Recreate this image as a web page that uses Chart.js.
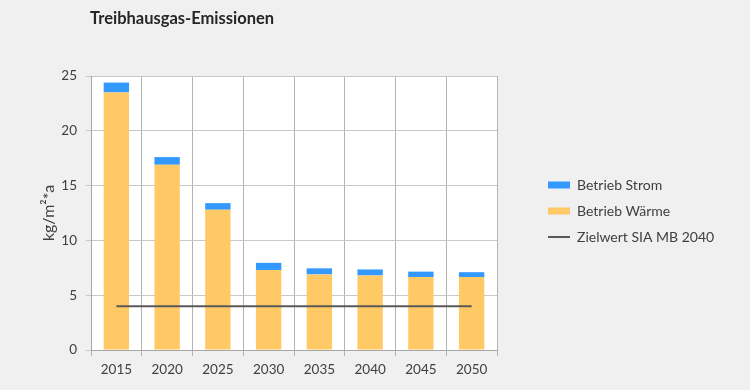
<!DOCTYPE html>
<html lang="de">
<head>
    <meta charset="UTF-8">
    <title>Treibhausgas-Emissionen</title>
    <script src="https://cdn.jsdelivr.net/npm/chart.js"></script>
    <style>
        body { margin: 0; background: #f0f0f0; }
        #wrap { width: 750px; height: 390px; position: relative; }
    </style>
</head>
<body>
<div id="wrap"><canvas id="ghgChart"></canvas></div>
<script>
    const years = ['2015', '2020', '2025', '2030', '2035', '2040', '2045', '2050'];
    const betriebWaerme = [23.5, 16.9, 12.8, 7.3, 6.9, 6.8, 6.65, 6.65];
    const betriebStrom = [0.9, 0.7, 0.6, 0.65, 0.55, 0.55, 0.5, 0.45];
    const zielwert = [4, 4, 4, 4, 4, 4, 4, 4];
    const yTicks = [0, 5, 10, 15, 20, 25];

    const legendOrder = ['Betrieb Strom', 'Betrieb Wärme', 'Zielwert SIA MB 2040'];
    const textColor = '#404040';

    // white plot area, title aligned to the y axis, legend width/position tweak
    const chartDecor = {
        id: 'chartDecor',
        beforeLayout(chart) {
            const lg = chart.legend;
            if (lg && !lg._fixedFit) {
                const fit = lg.fit.bind(lg);
                lg.fit = function () { fit(); this.width = 192; };
                lg._fixedFit = true;
            }
        },
        afterLayout(chart) {
            const lg = chart.legend;
            if (lg) { lg.top -= 22; lg.bottom -= 22; }
        },
        beforeDraw(chart) {
            const { ctx, chartArea: a } = chart;
            ctx.save();
            ctx.fillStyle = '#ffffff';
            ctx.fillRect(a.left, a.top, a.right - a.left, a.bottom - a.top);
            ctx.restore();
        },
        afterDraw(chart) {
            const { ctx, chartArea: a } = chart;
            ctx.save();
            ctx.font = 'bold 16.5px Lato';
            ctx.fillStyle = '#262626';
            ctx.textBaseline = 'middle';
            ctx.fillText('Treibhausgas-Emissionen', a.left - 1, 19);
            ctx.restore();
        }
    };

    new Chart(document.getElementById('ghgChart'), {
        type: 'bar',
        data: {
            labels: years,
            datasets: [
                {
                    label: 'Betrieb Wärme',
                    data: betriebWaerme,
                    backgroundColor: '#ffc966',
                    barPercentage: 0.5,
                    categoryPercentage: 1.0,
                    order: 2
                },
                {
                    label: 'Betrieb Strom',
                    data: betriebStrom,
                    backgroundColor: '#3399ff',
                    barPercentage: 0.5,
                    categoryPercentage: 1.0,
                    order: 2
                },
                {
                    type: 'line',
                    label: 'Zielwert SIA MB 2040',
                    data: zielwert,
                    borderColor: '#595959',
                    backgroundColor: '#595959',
                    borderWidth: 2,
                    pointRadius: 0,
                    stack: 'target',
                    order: 1
                }
            ]
        },
        options: {
            responsive: true,
            maintainAspectRatio: false,
            animation: false,
            layout: { padding: { top: 76, right: 22, bottom: 0, left: 39 } },
            plugins: {
                tooltip: { enabled: false },
                legend: {
                    position: 'right',
                    labels: {
                        color: textColor,
                        font: { family: 'Lato', size: 14 },
                        usePointStyle: true,
                        pointStyleWidth: 22,
                        boxHeight: 7,
                        padding: 12,
                        generateLabels(chart) {
                            const items = Chart.defaults.plugins.legend.labels.generateLabels(chart);
                            items.forEach(it => {
                                it.pointStyle = chart.data.datasets[it.datasetIndex].type === 'line' ? 'line' : 'rect';
                            });
                            return items;
                        },
                        sort: (a, b) => legendOrder.indexOf(a.text) - legendOrder.indexOf(b.text)
                    }
                }
            },
            scales: {
                x: {
                    stacked: true,
                    afterFit(scale) { scale.height = 40; },
                    grid: { color: '#b3b3b3', tickLength: 6, offset: true },
                    border: { color: '#a6a6a6' },
                    ticks: { color: textColor, font: { family: 'Lato', size: 13.5 }, padding: 6 }
                },
                y: {
                    stacked: true,
                    min: 0,
                    max: 25,
                    afterBuildTicks(scale) {
                        scale.ticks = yTicks.map(v => ({ value: v }));
                    },
                    afterFit(scale) { scale.width = 52; },
                    grid: { color: '#c8c8c8', tickLength: 5 },
                    border: { color: '#a6a6a6' },
                    ticks: { color: textColor, font: { family: 'Lato', size: 13.5 }, padding: 9 },
                    title: {
                        display: true,
                        text: 'kg/m²*a',
                        color: textColor,
                        font: { family: 'Lato', size: 16 },
                        padding: 0
                    }
                },
                gap: {
                    position: 'right',
                    display: true,
                    grid: { display: false },
                    border: { display: false },
                    ticks: { display: false },
                    afterFit(scale) { scale.width = 39; }
                }
            }
        },
        plugins: [chartDecor]
    });
</script>
</body>
</html>
